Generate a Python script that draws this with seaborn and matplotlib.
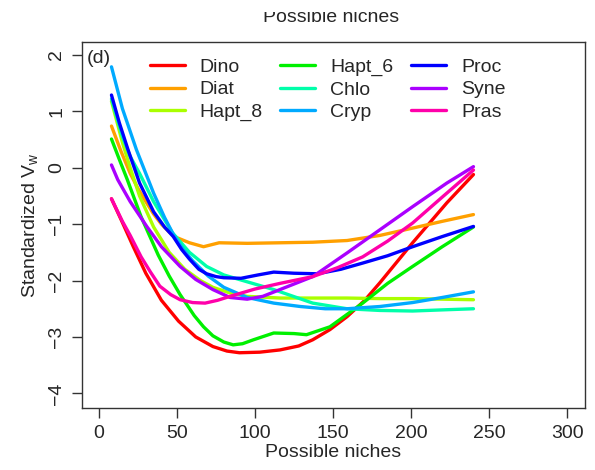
import numpy as np
import pandas as pd
import seaborn as sns
import matplotlib
matplotlib.use("Agg")
import matplotlib.pyplot as plt
from matplotlib.patches import Rectangle

# Werte (x = Possible niches, y = Standardized Vw)
dino_x = [8, 15, 22, 30, 40, 51, 62, 73, 82, 90, 103, 116, 128, 137, 148, 159, 170, 180, 201, 223, 240]
dino_y = [-0.55, -0.97, -1.4, -1.87, -2.35, -2.72, -3.0, -3.17, -3.25, -3.28, -3.27, -3.23, -3.16, -3.05, -2.87, -2.64, -2.36, -2.04, -1.33, -0.62, -0.12]

diat_x = [8, 14, 20, 25, 30, 35, 40, 45, 50, 58, 67, 77, 95, 116, 137, 159, 180, 201, 220, 240]
diat_y = [0.74, 0.3, -0.1, -0.37, -0.6, -0.82, -1.0, -1.14, -1.24, -1.33, -1.4, -1.33, -1.34, -1.33, -1.32, -1.29, -1.2, -1.07, -0.95, -0.83]

hapt8_x = [8, 15, 20, 26, 35, 45, 55, 65, 73, 84, 95, 116, 137, 159, 180, 201, 220, 240]
hapt8_y = [1.18, 0.45, 0.0, -0.5, -1.05, -1.5, -1.8, -2.0, -2.12, -2.22, -2.28, -2.31, -2.31, -2.31, -2.32, -2.32, -2.33, -2.34]

hapt6_x = [8, 13, 18, 27, 38, 45, 52, 61, 67, 73, 80, 86, 92, 99, 112, 125, 133, 148, 169, 185, 201, 220, 240]
hapt6_y = [0.51, 0.15, -0.2, -0.87, -1.55, -1.92, -2.25, -2.62, -2.82, -2.98, -3.09, -3.14, -3.12, -3.05, -2.93, -2.94, -2.96, -2.82, -2.4, -2.05, -1.75, -1.4, -1.05]

chlo_x = [8, 15, 20, 26, 35, 47, 58, 69, 80, 91, 112, 137, 159, 180, 201, 220, 240]
chlo_y = [1.22, 0.55, 0.2, -0.1, -0.6, -1.15, -1.5, -1.75, -1.9, -1.99, -2.16, -2.4, -2.5, -2.53, -2.54, -2.52, -2.5]

cryp_x = [8, 15, 24, 35, 42, 48, 54, 60, 70, 80, 95, 112, 129, 145, 159, 180, 201, 220, 240]
cryp_y = [1.79, 1.05, 0.32, -0.45, -0.88, -1.2, -1.45, -1.65, -1.92, -2.12, -2.3, -2.4, -2.46, -2.5, -2.5, -2.46, -2.39, -2.3, -2.2]

proc_x = [8, 13, 18.6, 26, 35, 42, 47.6, 53, 58, 64, 69, 75, 80, 91, 102, 112, 125, 140, 155, 169, 185, 201, 220, 240]
proc_y = [1.29, 0.8, 0.32, -0.27, -0.78, -1.05, -1.22, -1.45, -1.62, -1.8, -1.88, -1.93, -1.95, -1.96, -1.9, -1.85, -1.87, -1.88, -1.8, -1.69, -1.56, -1.4, -1.22, -1.04]

syne_x = [8, 12, 20, 30.6, 40, 52, 62, 73, 84, 95, 105, 116, 137, 159, 180, 201, 223, 240]
syne_y = [0.05, -0.21, -0.6, -1.04, -1.4, -1.75, -1.98, -2.16, -2.3, -2.33, -2.28, -2.16, -1.93, -1.51, -1.1, -0.69, -0.27, 0.02]

pras_x = [8, 15, 20, 27, 33, 39, 46, 52, 60, 68, 76, 84, 100, 116, 137, 153, 169, 185, 201, 220, 240]
pras_y = [-0.55, -0.95, -1.2, -1.58, -1.85, -2.1, -2.25, -2.34, -2.39, -2.4, -2.35, -2.28, -2.15, -2.05, -1.93, -1.77, -1.58, -1.3, -0.98, -0.52, -0.04]

namen = ["Dino", "Diat", "Hapt_8", "Hapt_6", "Chlo", "Cryp", "Proc", "Syne", "Pras"]
farben = ["#FF0000", "#FFA000", "#AAFF00", "#00F000", "#00FFAA", "#00AAFF", "#0000FF", "#AA00FF", "#FF00AA"]

serien = {
    "Dino": (dino_x, dino_y), "Diat": (diat_x, diat_y), "Hapt_8": (hapt8_x, hapt8_y),
    "Hapt_6": (hapt6_x, hapt6_y), "Chlo": (chlo_x, chlo_y), "Cryp": (cryp_x, cryp_y),
    "Proc": (proc_x, proc_y), "Syne": (syne_x, syne_y), "Pras": (pras_x, pras_y),
}

# Long-Format DataFrame bauen
df = pd.concat([pd.DataFrame({"niches": x, "vw": y, "gruppe": n}) for n, (x, y) in serien.items()],
               ignore_index=True)

sns.set_style("ticks")
plt.rcParams["font.family"] = ["Liberation Sans", "DejaVu Sans"]
plt.rcParams["mathtext.fontset"] = "custom"
plt.rcParams["mathtext.rm"] = "Liberation Sans"
plt.rcParams["mathtext.it"] = "Liberation Sans:italic"

fig = plt.figure(figsize=(5.95, 4.70), dpi=100)
ax = fig.add_axes([0.1378, 0.1319, 0.8454, 0.7787])

sns.lineplot(data=df, x="niches", y="vw", hue="gruppe", hue_order=namen,
             palette=dict(zip(namen, farben)), estimator=None, linewidth=2.4, ax=ax)

ax.set_xlim(-10.9, 311.5)
ax.set_ylim(-4.26, 2.23)
ax.set_xticks(np.arange(0, 301, 50))
ax.set_yticks(np.arange(-4, 3, 1))
for s in ax.spines.values():
    s.set_visible(True)
    s.set_linewidth(1.0)
    s.set_color("#333333")
ax.tick_params(labelsize=14, length=7, width=1, color="#333333", pad=5)
plt.setp(ax.get_yticklabels(), rotation=90, va="center")

ax.set_xlabel("Possible niches", fontsize=14, labelpad=2)
ax.set_ylabel(r"Standardized $\mathrm{V_w}$", fontsize=14, labelpad=6)

ax.text(0.01, 0.955, "(d)", transform=ax.transAxes, fontsize=14, va="center", ha="left")

# oben abgeschnittener Titel
fig.text(331.5 / 595, 1 - 22.5 / 470, "Possible niches", fontsize=14, ha="center", va="baseline")
fig.patches.append(Rectangle((0, 1 - 11.5 / 470), 1, 11.5 / 470, transform=fig.transFigure,
                             facecolor="white", edgecolor="none", zorder=10))

ax.legend(ncol=3, loc="upper left", bbox_to_anchor=(0.135, 0.956), frameon=False,
          fontsize=14, handlelength=1.8, handletextpad=0.77, columnspacing=0.9,
          labelspacing=0.26, borderpad=0, borderaxespad=0, title=None)

fig.savefig("out.png", dpi=100)
